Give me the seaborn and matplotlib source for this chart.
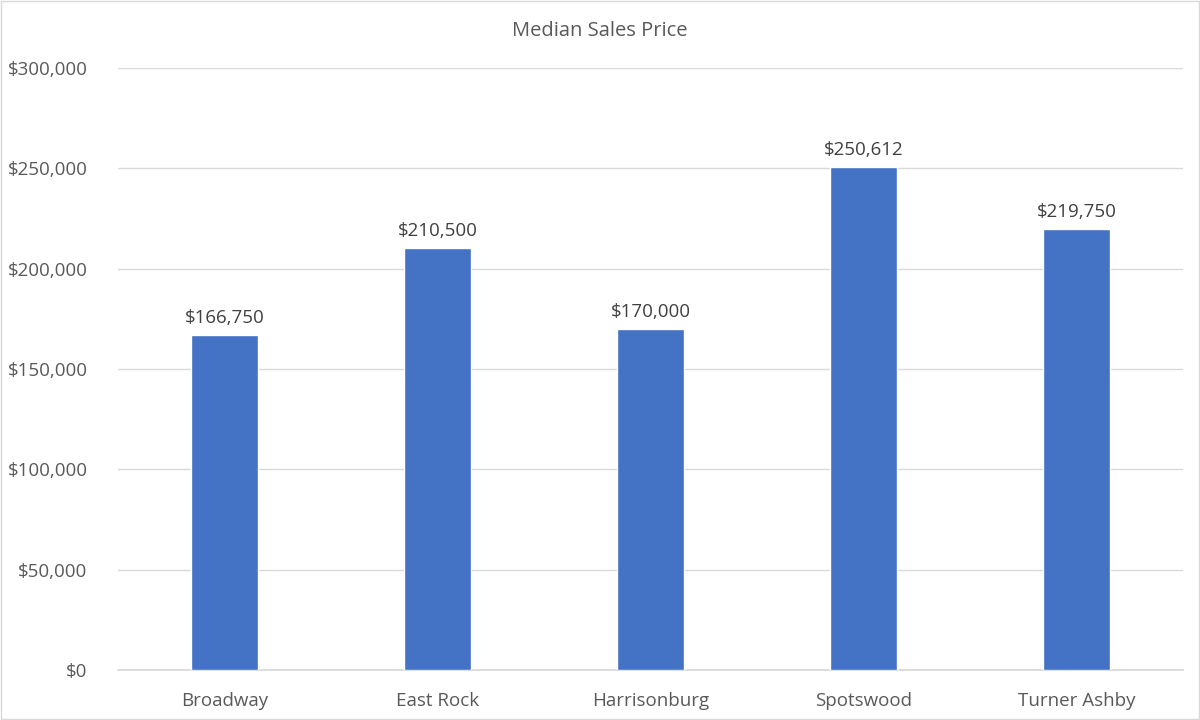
import matplotlib
matplotlib.use("Agg")
import matplotlib.pyplot as plt
import matplotlib.ticker as mticker
import seaborn as sns
import pandas as pd

# data
neighborhoods = ["Broadway", "East Rock", "Harrisonburg", "Spotswood", "Turner Ashby"]
median_price = [166750, 210500, 170000, 250612, 219750]

df = pd.DataFrame({"area": neighborhoods, "price": median_price})

sns.set_theme(style="white")
plt.rcParams["font.family"] = ["Open Sans", "DejaVu Sans"]

txt = "#595959"
fig = plt.figure(figsize=(12, 7.2), dpi=100)
ax = fig.add_axes([0.0983, 0.0694, 0.8875, 0.8362])

sns.barplot(data=df, x="area", y="price", color="#4472C4", width=0.315,
            saturation=1, ax=ax, zorder=3)

ax.set_ylim(0, 300000)
ax.set_yticks(range(0, 300001, 50000))
ax.yaxis.set_major_formatter(mticker.FuncFormatter(lambda v, p: "${:,.0f}".format(v)))
ax.grid(axis="y", color="#D9D9D9", linewidth=1, zorder=0)
ax.set_xlabel("")
ax.set_ylabel("")
ax.tick_params(axis="both", colors=txt, labelsize=13.5, length=0)
ax.tick_params(axis="y", pad=22)
ax.tick_params(axis="x", pad=16)
for s in ["top", "right", "left"]:
    ax.spines[s].set_visible(False)
ax.spines["bottom"].set_color("#D9D9D9")

for i, v in enumerate(median_price):
    ax.text(i, v + 4000, "${:,.0f}".format(v), ha="center", va="bottom",
            fontsize=13.5, color="#404040")

fig.text(0.5, 0.957, "Median Sales Price", ha="center", va="center",
         fontsize=14.5, color=txt)

# thin chart border like the spreadsheet export
fig.patches.append(plt.Rectangle((0.001, 0.001), 0.998, 0.997, transform=fig.transFigure,
                                 fill=False, edgecolor="#D9D9D9", linewidth=1))

fig.savefig("out.png", dpi=100)
